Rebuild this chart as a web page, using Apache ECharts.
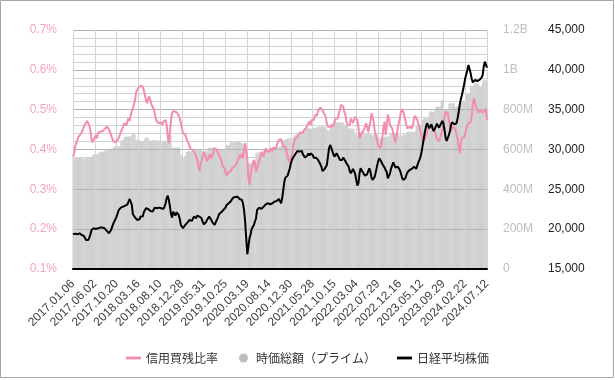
<!DOCTYPE html>
<html>
<head>
<meta charset="utf-8">
<script src="https://cdn.jsdelivr.net/npm/echarts@6/dist/echarts.min.js"></script>
<style>
html,body{margin:0;padding:0;background:#fff;}
#chart{width:615px;height:380px;}
</style>
</head>
<body>
<div id="chart"></div>
<script>
// X-axis tick labels (every 20th week)
const tickLabels = ['2017.01.06','2017.06.02','2017.10.20','2018.03.16','2018.08.10','2018.12.28','2019.05.31','2019.10.25','2020.03.19','2020.08.14','2020.12.30','2021.05.28','2021.10.15','2022.03.04','2022.07.29','2022.12.16','2023.05.12','2023.09.29','2024.02.22','2024.07.12'];

// 信用買残比率 (%), weekly
const marginRatio = [
0.382,0.390,0.407,0.416,0.424,0.432,0.436,0.438,0.441,0.449,0.457,0.463,0.468,0.472,0.466,0.460,0.446,0.424,0.418,0.426,
0.424,0.436,0.428,0.441,0.436,0.445,0.441,0.446,0.443,0.451,0.453,0.457,0.455,0.451,0.446,0.436,0.428,0.421,0.420,0.418,
0.420,0.424,0.430,0.436,0.445,0.449,0.457,0.466,0.470,0.461,0.470,0.478,0.472,0.487,0.495,0.503,0.508,0.524,0.545,0.549,
0.554,0.558,0.560,0.564,0.558,0.549,0.537,0.524,0.516,0.527,0.533,0.524,0.513,0.512,0.503,0.491,0.478,0.470,0.466,0.466,
0.463,0.468,0.461,0.470,0.466,0.474,0.461,0.432,0.416,0.445,0.474,0.491,0.497,0.499,0.495,0.493,0.491,0.487,0.478,0.466,
0.453,0.441,0.436,0.438,0.428,0.424,0.416,0.407,0.401,0.396,0.399,0.394,0.390,0.382,0.374,0.361,0.346,0.361,0.370,0.382,
0.394,0.399,0.382,0.370,0.365,0.382,0.388,0.378,0.382,0.394,0.403,0.405,0.399,0.394,0.385,0.380,0.374,0.361,0.357,0.353,
0.344,0.334,0.332,0.344,0.349,0.346,0.353,0.351,0.357,0.354,0.365,0.371,0.378,0.386,0.380,0.390,0.378,0.399,0.416,0.420,
0.378,0.328,0.311,0.336,0.353,0.361,0.374,0.365,0.344,0.353,0.365,0.374,0.382,0.394,0.390,0.382,0.394,0.403,0.396,0.401,
0.394,0.399,0.403,0.396,0.405,0.407,0.401,0.411,0.416,0.424,0.424,0.426,0.416,0.407,0.403,0.407,0.394,0.382,0.374,0.368,
0.378,0.390,0.407,0.420,0.428,0.424,0.432,0.438,0.436,0.443,0.446,0.441,0.449,0.445,0.453,0.461,0.466,0.470,0.461,0.474,
0.478,0.474,0.487,0.488,0.485,0.497,0.502,0.505,0.508,0.499,0.493,0.497,0.482,0.466,0.457,0.453,0.457,0.461,0.463,0.457,
0.470,0.477,0.482,0.478,0.491,0.499,0.512,0.516,0.508,0.495,0.487,0.470,0.461,0.466,0.461,0.478,0.474,0.466,0.474,0.482,
0.487,0.474,0.457,0.428,0.424,0.441,0.445,0.449,0.453,0.466,0.457,0.443,0.441,0.470,0.491,0.482,0.470,0.445,0.436,0.424,
0.411,0.407,0.403,0.413,0.432,0.457,0.470,0.436,0.461,0.488,0.478,0.461,0.457,0.453,0.449,0.428,0.418,0.432,0.453,0.466,
0.478,0.495,0.502,0.495,0.487,0.474,0.461,0.453,0.451,0.457,0.461,0.453,0.461,0.478,0.485,0.487,0.474,0.466,0.455,0.445,
0.435,0.418,0.420,0.426,0.436,0.445,0.457,0.461,0.457,0.453,0.457,0.453,0.446,0.441,0.428,0.424,0.420,0.430,0.432,0.449,
0.466,0.482,0.495,0.499,0.491,0.474,0.461,0.446,0.457,0.461,0.455,0.449,0.445,0.428,0.407,0.390,0.416,0.430,0.435,0.430,
0.441,0.453,0.460,0.466,0.470,0.468,0.485,0.512,0.529,0.516,0.508,0.499,0.493,0.491,0.497,0.499,0.493,0.488,0.497,0.503,
0.474
];

// 時価総額（プライム） in millions
const marketCap = [
562,558,560,563,560,557,560,562,559,561,
555,553,556,
560,562,559,561,563,
572,575,577,574,576,578,
586,589,591,588,590,592,
600,602,604,601,603,605,602,
612,614,616,613,615,617,614,
645,648,650,
662,664,666,663,665,667,664,
674,676,678,675,
648,646,650,647,
640,638,641,639,
657,659,661,658,
645,647,644,646,648,645,647,644,646,
643,645,642,644,646,643,645,644,
671,673,675,672,
609,611,607,610,608,612,609,606,
575,566,562,564,567,
588,592,590,594,591,593,
600,602,598,601,603,599,602,600,598,
592,590,594,591,593,
607,609,611,608,610,612,609,607,
600,598,602,599,601,603,600,604,
620,622,624,621,
634,636,638,635,637,639,
638,640,641,638,636,
631,629,632,600,
565,545,532,
528,532,535,540,545,550,
580,585,588,584,587,589,586,
595,597,599,596,598,600,597,
610,612,614,611,613,615,612,614,616,
618,
640,645,648,650,652,
654,656,658,655,657,660,
670,673,675,672,
686,689,691,688,690,
703,706,708,705,707,709,704,706,708,705,707,709,
713,715,717,714,716,718,715,713,716,
700,698,696,
720,723,725,
733,736,738,735,737,739,734,736,738,735,
725,723,721,724,
708,706,704,707,705,703,
675,673,671,674,670,
687,689,691,688,
680,682,679,681,683,680,
674,672,675,673,671,674,672,
658,656,654,657,
662,664,666,663,665,667,
679,681,683,680,682,684,681,679,
671,673,675,672,674,676,673,
687,689,691,688,690,692,689,687,690,
720,723,725,722,724,726,
752,756,758,755,757,759,
786,790,792,789,791,793,
812,815,817,814,816,
845,850,846,
798,796,800,797,
830,832,834,831,833,835,
813,815,817,814,816,
838,840,842,839,841,
878,882,885,880,
912,915,918,
928,932,935,930,933,
915,912,917,
945,949,952,947,950
];

// 日経平均株価
const nikkei = [
19357,19270,19440,19190,19357,19270,19480,19357,19270,19400,19150,18940,18650,18440,18650,18940,19357,19900,20030,20110,
20195,20030,20280,20110,20280,20195,20360,20195,20280,20110,20030,19780,19610,19480,19357,19900,20320,20700,20950,21280,
21580,22000,22410,22620,22700,22540,22830,22700,22950,22830,23120,23460,23790,23670,23040,21870,21700,21450,21580,21160,
20950,21240,21580,21790,21580,22120,22290,22620,22830,22540,22700,22290,22540,22200,22410,22700,22540,22620,22370,22700,
22830,22620,22700,22540,22830,23250,23870,24210,23670,22830,21870,21450,22200,22000,21700,22120,22080,21790,21280,20530,
20280,20110,20195,20530,20610,20820,20950,21160,21370,21030,21280,21580,21450,21370,21700,21870,21580,21580,21370,20950,
20610,20530,20860,21160,21370,21580,21450,21160,20860,20610,20530,20740,21160,21450,21870,22000,22120,22200,22410,22540,
22700,23040,23250,23250,23460,23540,23790,23960,23880,24040,23960,24080,23880,23790,23880,23670,23250,22410,20950,18860,
16850,17810,18860,19360,20030,19900,20530,20740,21370,22410,22620,22700,22790,22540,22700,22830,23040,23120,23040,23250,
23040,23120,22950,23250,23370,23460,23250,23540,23670,23790,23540,23250,23880,24920,25970,26470,26600,26720,26890,27640,
28270,28690,28980,29100,29400,29650,29820,29940,29730,29520,29820,29400,29230,28980,28900,29230,29520,29230,29520,29730,
29310,28980,28900,28980,28810,28690,28480,28140,27850,27300,27140,27560,27720,28060,29100,30150,30570,30230,29820,29400,
29100,29310,29520,29310,28980,28690,28480,28690,28980,28810,28560,28270,28140,27850,27300,27010,27220,27560,27300,26890,
26180,25470,25760,27010,27640,27430,27140,26890,26720,26600,26890,27300,27640,27220,26470,26180,26300,26600,27220,27850,
28480,28900,28810,28480,28140,28060,27720,27430,27140,26380,26300,27010,27640,27850,28390,28060,27720,27560,27850,27640,
27430,27010,26470,26180,26050,26380,26800,27140,27300,27430,27640,27560,27720,27850,27720,27560,27980,28390,28690,29100,
29730,30570,31400,32240,32870,33290,32990,32660,32870,33160,32660,32320,32240,32870,33250,33080,32740,32990,33290,33580,
33290,32450,31490,31070,31200,31820,32320,33080,33410,33500,33160,33080,33290,33910,34670,35670,36340,36840,37470,38180,
38930,39440,39980,40610,40400,39560,38850,38430,38600,38730,38850,38600,38850,38730,38930,39020,39350,40400,41030,41240,
40270
];

const seriesNames = ['信用買残比率', '時価総額（プライム）', '日経平均株価'];

const categories = marginRatio.map((_, i) => String(i));
const labelFont = "'Liberation Sans', Arial, sans-serif";
const cjkFont = "'Noto Sans CJK JP', sans-serif";

const chart = echarts.init(document.getElementById('chart'), null, {renderer: 'canvas'});
chart.setOption({
  animation: false,
  backgroundColor: '#fff',
  textStyle: {fontFamily: labelFont},
  graphic: [{
    type: 'rect', shape: {x: 0.5, y: 0.5, width: 613, height: 377},
    style: {fill: 'none', stroke: '#a6a6a6', lineWidth: 1}, silent: true, z: 100
  }],
  grid: {left: 73, right: 128, top: 30, bottom: 111, containLabel: false},
  legend: {
    top: 347, left: 'center',
    itemWidth: 15, itemHeight: 9, itemGap: 21,
    textStyle: {fontFamily: cjkFont, fontSize: 12, color: '#333'},
    data: [
      {name: seriesNames[0], icon: 'path://M0 0H16V3H0Z'},
      {name: seriesNames[1], icon: 'circle', itemStyle: {color: '#bfbfbf'}},
      {name: seriesNames[2], icon: 'path://M0 0H16V3H0Z'}
    ]
  },
  xAxis: {
    type: 'category', data: categories, boundaryGap: false, z: 3,
    axisLine: {lineStyle: {color: '#000', width: 2}},
    axisTick: {show: false},
    axisLabel: {
      interval: 19, rotate: 45, margin: 13, fontSize: 12, color: '#404040', fontFamily: labelFont,
      formatter: (v, idx) => (idx % 20 === 0 ? tickLabels[idx / 20] : '')
    },
    splitLine: {show: true, interval: 19, lineStyle: {color: '#d4d4d4', width: 1}}
  },
  yAxis: [
    {
      type: 'value', position: 'left', min: 0.1, max: 0.7, interval: 0.1, z: 3,
      axisLine: {show: false}, axisTick: {show: false},
      axisLabel: {margin: 16, fontSize: 12, color: '#f5a0bf', formatter: v => v.toFixed(1) + '%'},
      splitLine: {show: true, lineStyle: {color: '#b4b4b4', width: 1}},
      minorTick: {show: false, splitNumber: 5},
      minorSplitLine: {show: true, lineStyle: {color: '#d2d2d2', width: 1}}
    },
    {
      type: 'value', position: 'right', min: 0, max: 1200, interval: 200,
      axisLine: {show: false}, axisTick: {show: false}, splitLine: {show: false},
      axisLabel: {margin: 16, fontSize: 12, color: '#bdbdbd',
        formatter: v => v === 0 ? '0' : (v >= 1000 ? (v / 1000) + 'B' : v + 'M')}
    },
    {
      type: 'value', position: 'right', offset: 45, min: 15000, max: 45000, interval: 5000,
      axisLine: {show: false}, axisTick: {show: false}, splitLine: {show: false},
      axisLabel: {margin: 16, fontSize: 12, color: '#222',
        formatter: v => v.toLocaleString('en-US')}
    }
  ],
  series: [
    {
      name: seriesNames[1], type: 'bar', yAxisIndex: 1, data: marketCap,
      barWidth: '100%', z: 2,
      itemStyle: {color: 'rgba(160,160,160,0.5)'}
    },
    {
      name: seriesNames[0], type: 'line', yAxisIndex: 0, data: marginRatio,
      showSymbol: false, symbol: 'none', z: 5,
      lineStyle: {color: '#f38cb0', width: 2}, itemStyle: {color: '#f38cb0'}
    },
    {
      name: seriesNames[2], type: 'line', yAxisIndex: 2, data: nikkei,
      showSymbol: false, symbol: 'none', z: 6,
      lineStyle: {color: '#000', width: 2}, itemStyle: {color: '#000'}
    }
  ]
});
</script>
</body>
</html>
